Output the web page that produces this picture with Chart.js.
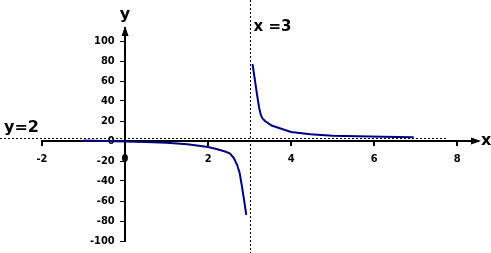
<!DOCTYPE html>
<html>
<head>
<meta charset="utf-8">
<script src="https://cdn.jsdelivr.net/npm/chart.js@4.4.1/dist/chart.umd.min.js"></script>
<style>
html,body{margin:0;padding:0;background:#fff;}
#wrap{width:491px;height:253px;position:relative;}
</style>
</head>
<body>
<div id="wrap"><canvas id="c" width="491" height="253"></canvas></div>
<script>
// Data
const leftX  = [-1, 0, 0.5, 1, 1.5, 2, 2.2, 2.41, 2.53, 2.62, 2.7, 2.76, 2.81, 2.87, 2.92];
const leftY  = [0.5, -0.5, -1, -1.8, -3.2, -6, -8, -10.5, -12.5, -17, -24, -32, -44, -60, -74];
const rightX = [3.07, 3.12, 3.18, 3.23, 3.27, 3.31, 3.37, 3.53, 3.78, 4.0, 4.46, 5.0, 6.2, 6.95];
const rightY = [77, 63, 46, 33, 26, 22.5, 20, 15.5, 12, 9, 6.7, 5.3, 4.3, 3.7];
const xTicks = [-2, 0, 2, 4, 6, 8];
const yTicks = [-100, -80, -60, -40, -20, 0, 20, 40, 60, 80, 100];
const hAsymptote = 2;
const vAsymptote = 3;

const toPts = (xs, ys) => xs.map((x, i) => ({x: x, y: ys[i]}));

const overlay = {
  id: 'overlay',
  beforeDraw(chart) {
    const ctx = chart.ctx;
    ctx.save();
    ctx.fillStyle = '#fff';
    ctx.fillRect(0, 0, chart.width, chart.height);
    ctx.restore();
  },
  beforeDatasetsDraw(chart) {
    const {ctx, scales: {x, y}} = chart;
    ctx.save();
    ctx.strokeStyle = '#000';
    ctx.lineWidth = 1;
    ctx.setLineDash([2, 2]);
    const yy = Math.round(y.getPixelForValue(hAsymptote)) - 0.5;
    ctx.beginPath();
    ctx.moveTo(0, yy);
    ctx.lineTo(x.getPixelForValue(7.75), yy);
    ctx.stroke();
    const xx = Math.round(x.getPixelForValue(vAsymptote)) + 0.5;
    ctx.beginPath();
    ctx.moveTo(xx, 0);
    ctx.lineTo(xx, chart.height);
    ctx.stroke();
    ctx.restore();
  },
  afterDraw(chart) {
    const {ctx, chartArea, scales: {x, y}} = chart;
    const x0 = x.getPixelForValue(0);
    const y0 = y.getPixelForValue(0);
    ctx.save();
    ctx.fillStyle = '#000';
    // y arrow
    ctx.beginPath();
    ctx.moveTo(x0, chartArea.top - 2);
    ctx.lineTo(x0 - 3.5, chartArea.top + 8);
    ctx.lineTo(x0 + 3.5, chartArea.top + 8);
    ctx.closePath();
    ctx.fill();
    // x arrow
    ctx.beginPath();
    ctx.moveTo(chartArea.right + 3, y0);
    ctx.lineTo(chartArea.right - 7, y0 - 3.5);
    ctx.lineTo(chartArea.right - 7, y0 + 3.5);
    ctx.closePath();
    ctx.fill();
    ctx.font = 'bold 16px "DejaVu Sans", sans-serif';
    ctx.textBaseline = 'middle';
    ctx.textAlign = 'center';
    ctx.fillText('y', x0, 15);
    ctx.textAlign = 'left';
    ctx.fillText('x', chartArea.right + 3, y0);
    ctx.fillText('y=2', 4, 128);
    ctx.font = 'bold 15px "DejaVu Sans", sans-serif';
    ctx.fillText('x =3', x.getPixelForValue(vAsymptote) + 4, 27);
    ctx.restore();
  }
};

Chart.defaults.font.family = '"DejaVu Sans Condensed", "DejaVu Sans", sans-serif';
Chart.defaults.font.weight = 'bold';
Chart.defaults.font.size = 11;
Chart.defaults.color = '#000';

new Chart(document.getElementById('c'), {
  type: 'scatter',
  data: {
    datasets: [
      {data: toPts(leftX, leftY), showLine: true, borderColor: '#000080', borderWidth: 2, pointRadius: 0, tension: 0},
      {data: toPts(rightX, rightY), showLine: true, borderColor: '#000080', borderWidth: 2, pointRadius: 0, tension: 0}
    ]
  },
  options: {
    responsive: false,
    animation: false,
    events: [],
    layout: {padding: {left: 42, right: 13, top: 28, bottom: 12}},
    plugins: {legend: {display: false}, tooltip: {enabled: false}},
    scales: {
      x: {
        type: 'linear',
        min: -2, max: 8.5,
        position: {y: 0},
        afterBuildTicks: (s) => { s.ticks = xTicks.map(v => ({value: v})); },
        ticks: {padding: 8, maxRotation: 0, autoSkip: false},
        grid: {display: true, drawOnChartArea: false, drawTicks: true, tickLength: 4, color: '#000', lineWidth: 2},
        border: {display: true, color: '#000', width: 2}
      },
      y: {
        type: 'linear',
        min: -100, max: 113,
        position: {x: 0},
        afterBuildTicks: (s) => { s.ticks = yTicks.map(v => ({value: v})); },
        ticks: {padding: 0, autoSkip: false, callback: (v) => v + '\u2007 '},
        grid: {display: true, drawOnChartArea: false, drawTicks: true, tickLength: 4, color: '#000', lineWidth: 1},
        border: {display: true, color: '#000', width: 2}
      }
    }
  },
  plugins: [overlay]
});
</script>
</body>
</html>
